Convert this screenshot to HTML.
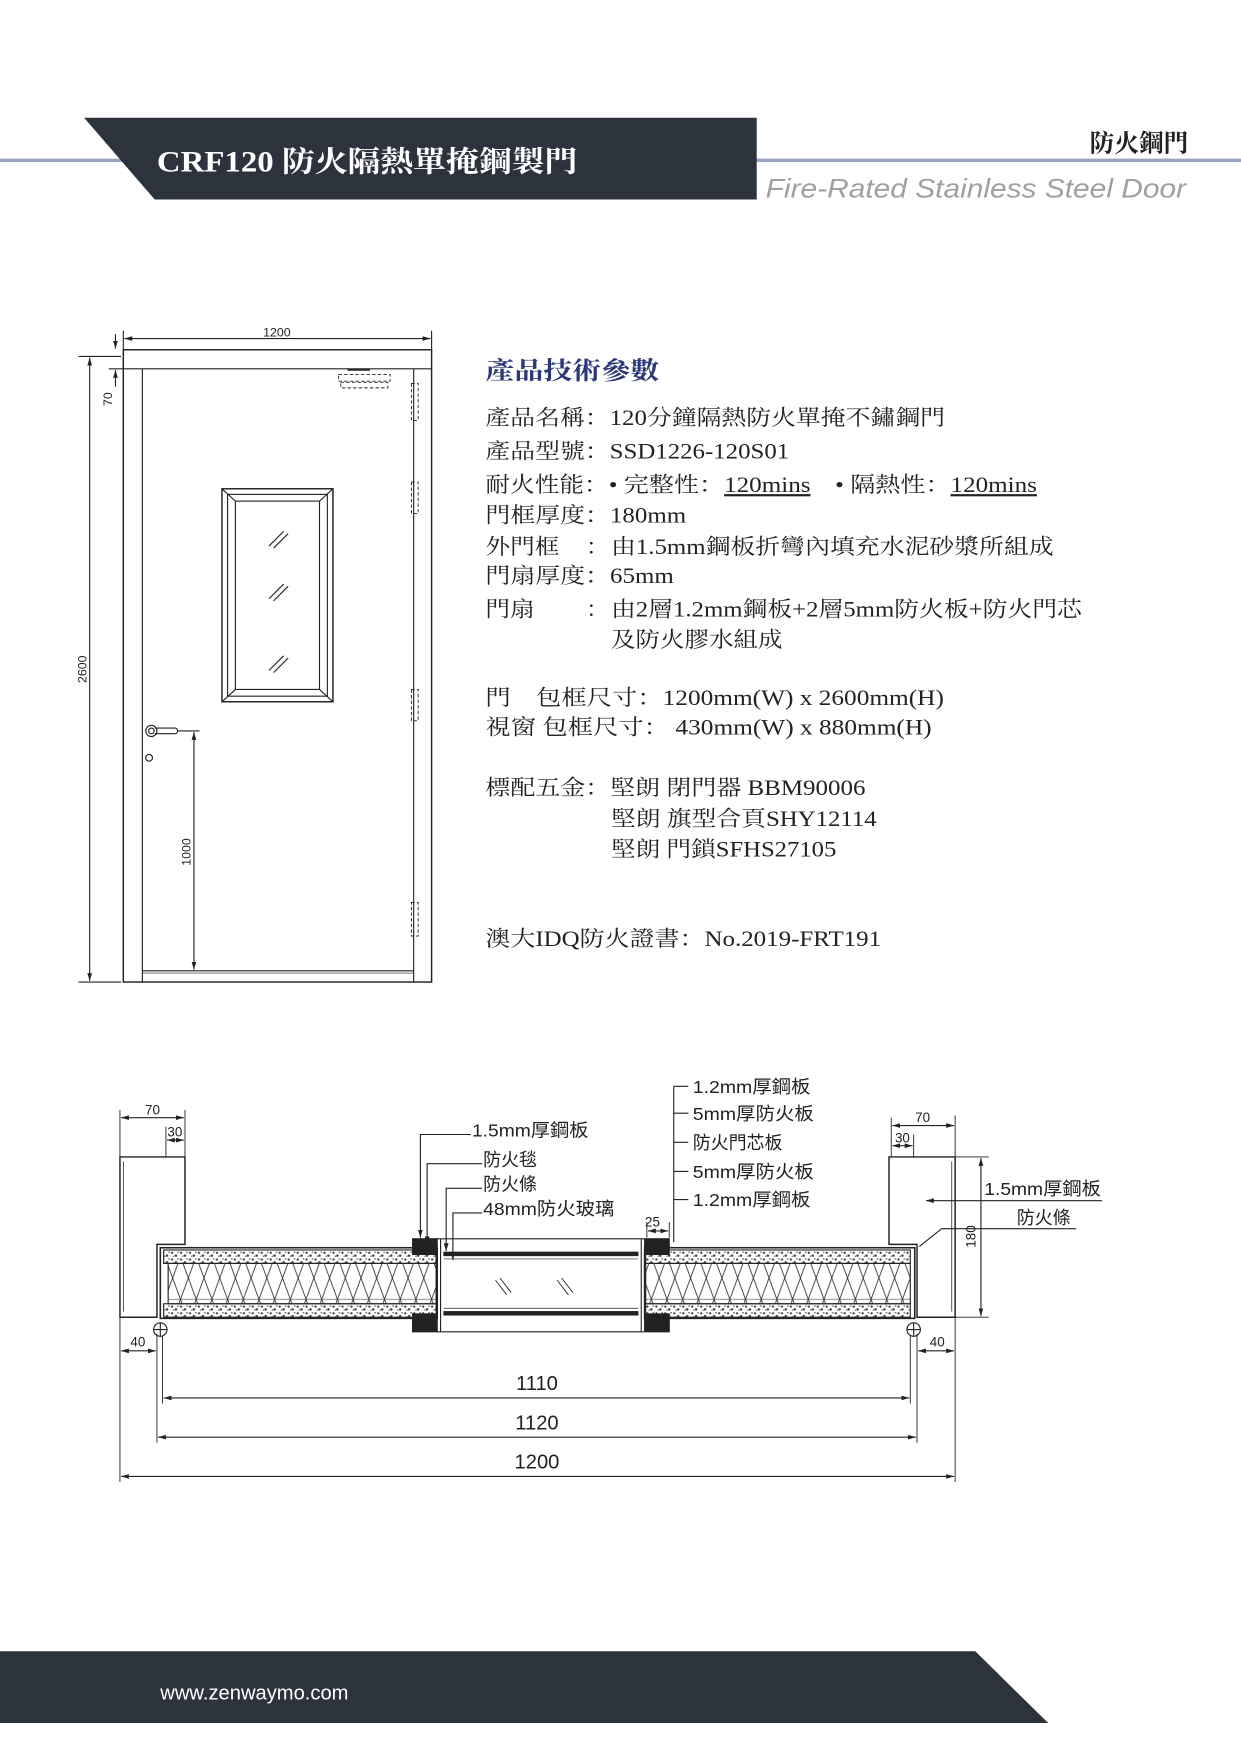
<!DOCTYPE html>
<html><head><meta charset="utf-8"><style>
html,body{margin:0;padding:0;background:#fff;}
svg{display:block;}
.s{font-family:"Liberation Serif","Noto Serif CJK SC",serif;}
.a{font-family:"Liberation Sans","Noto Sans CJK SC",sans-serif;}
</style></head><body>
<svg width="1241" height="1755" viewBox="0 0 1107 1565.5" xmlns="http://www.w3.org/2000/svg">
<defs>
<marker id="ar" viewBox="0 0 10 10" refX="10" refY="5" markerWidth="7" markerHeight="7" orient="auto-start-reverse"><path d="M0,2 L10,5 L0,8 z" fill="#222"/></marker>
<pattern id="zz" width="14" height="38" patternUnits="userSpaceOnUse"><path d="M0,0 L14,38 M14,0 L0,38" stroke="#333" stroke-width="0.8" fill="none"/><path d="M0,19 L14,19" stroke="#333" stroke-width="0.5"/></pattern>
<pattern id="sp" width="8" height="6" patternUnits="userSpaceOnUse"><rect width="8" height="6" fill="#fff"/><circle cx="1.5" cy="1.5" r="1" fill="#333"/><circle cx="5" cy="4" r="1.1" fill="#444"/><rect x="6" y="0.5" width="1.5" height="1" fill="#555"/><rect x="2.5" y="4" width="1.2" height="1.2" fill="#666"/></pattern>
</defs>

<!-- header -->
<line x1="0" y1="143" x2="1107" y2="143" stroke="#9aa3c2" stroke-width="3"/>
<polygon points="75,105 675,105 675,178 138,178" fill="#2d333d"/>
<text x="140" y="153" class="s" font-size="26" font-weight="bold" fill="#fff" textLength="375" lengthAdjust="spacingAndGlyphs">CRF120 防火隔熱單掩鋼製門</text>
<text x="1060" y="135" class="s" font-size="22" font-weight="bold" fill="#222" text-anchor="end">防火鋼門</text>
<text x="683" y="176" class="a" font-size="24" font-style="italic" fill="#a0a0a0" textLength="375" lengthAdjust="spacingAndGlyphs">Fire-Rated Stainless Steel Door</text>

<!-- door elevation -->
<g stroke="#222" fill="none" stroke-width="1">
<line x1="110" y1="295" x2="110" y2="312"/><line x1="385" y1="295" x2="385" y2="312"/>
<line x1="111" y1="302" x2="384" y2="302" marker-start="url(#ar)" marker-end="url(#ar)"/>
<rect x="110" y="312" width="275" height="564" stroke-width="1.3"/>
<line x1="110" y1="329" x2="385" y2="329"/>
<line x1="127" y1="329" x2="127" y2="876"/>
<line x1="369" y1="329" x2="369" y2="876"/>
<line x1="127" y1="866" x2="369" y2="866"/>
<line x1="127" y1="868" x2="369" y2="868" stroke-width="0.6"/>
<line x1="70" y1="318" x2="108" y2="318"/><line x1="70" y1="876" x2="108" y2="876"/>
<line x1="80" y1="319" x2="80" y2="875" marker-start="url(#ar)" marker-end="url(#ar)"/>
<line x1="97" y1="329" x2="110" y2="329"/>
<line x1="103" y1="298" x2="103" y2="311" marker-end="url(#ar)"/>
<line x1="103" y1="345" x2="103" y2="330" marker-end="url(#ar)"/>
<rect x="198" y="436" width="99" height="190" stroke-width="1.3"/>
<rect x="203" y="441" width="89" height="180"/>
<rect x="210" y="447" width="75" height="168"/>
<line x1="198" y1="436" x2="210" y2="447"/><line x1="297" y1="436" x2="285" y2="447"/>
<line x1="198" y1="626" x2="210" y2="615"/><line x1="297" y1="626" x2="285" y2="615"/>
<path d="M240,487 L253,474 M244,489 L257,476 M240,534 L253,521 M244,536 L257,523 M240,598 L253,585 M244,600 L257,587"/>
<circle cx="135" cy="652" r="5"/><circle cx="135" cy="652" r="2.5"/>
<path d="M138,649.5 L156,649.5 A2.5,2.5 0 0 1 156,654.5 L138,654.5"/>
<circle cx="133" cy="676" r="3"/>
<line x1="158" y1="652" x2="178" y2="652"/>
<line x1="173" y1="653" x2="173" y2="865" marker-start="url(#ar)" marker-end="url(#ar)"/>
<g stroke-dasharray="3,2" stroke-width="0.8">
<rect x="367" y="342" width="6" height="33"/><rect x="367" y="430" width="6" height="28"/>
<rect x="367" y="615" width="6" height="28"/><rect x="367" y="805" width="6" height="30"/>
<rect x="302" y="334" width="46" height="6"/><rect x="304" y="341" width="42" height="5"/>
</g>
<line x1="310" y1="330" x2="330" y2="330" stroke-width="1.5"/>
</g>
<g class="a" font-size="11" fill="#222">
<text x="247" y="300" text-anchor="middle">1200</text>
<text transform="translate(77,597) rotate(-90)" text-anchor="middle">2600</text>
<text transform="translate(100,356) rotate(-90)" text-anchor="middle">70</text>
<text transform="translate(170,760) rotate(-90)" text-anchor="middle">1000</text>
</g>

<!-- spec text -->
<text x="433" y="338" class="s" font-size="22" font-weight="bold" fill="#2b3778" textLength="155" lengthAdjust="spacingAndGlyphs">產品技術參數</text>
<g class="s" font-size="19.5" fill="#222" lengthAdjust="spacingAndGlyphs">
<text x="433" y="379" textLength="410" lengthAdjust="spacingAndGlyphs">產品名稱：120分鐘隔熱防火單掩不鏽鋼門</text>
<text x="433" y="409" textLength="271" lengthAdjust="spacingAndGlyphs">產品型號：SSD1226-120S01</text>
<text x="433" y="439" textLength="110" lengthAdjust="spacingAndGlyphs">耐火性能：</text>
<text x="543" y="439" textLength="180" lengthAdjust="spacingAndGlyphs">• 完整性：<tspan text-decoration="underline">120mins</tspan></text>
<text x="745" y="439" textLength="180" lengthAdjust="spacingAndGlyphs">• 隔熱性：<tspan text-decoration="underline">120mins</tspan></text>
<text x="433" y="466" textLength="179" lengthAdjust="spacingAndGlyphs">門框厚度：180mm</text>
<text x="433" y="494" textLength="66" lengthAdjust="spacingAndGlyphs">外門框</text>
<text x="523" y="494">：</text>
<text x="545" y="494" textLength="395" lengthAdjust="spacingAndGlyphs">由1.5mm鋼板折彎內填充水泥砂漿所組成</text>
<text x="433" y="520" textLength="168" lengthAdjust="spacingAndGlyphs">門扇厚度：65mm</text>
<text x="433" y="550" textLength="44" lengthAdjust="spacingAndGlyphs">門扇</text>
<text x="523" y="550">：</text>
<text x="545" y="550" textLength="420" lengthAdjust="spacingAndGlyphs">由2層1.2mm鋼板+2層5mm防火板+防火門芯</text>
<text x="545" y="577" textLength="153" lengthAdjust="spacingAndGlyphs">及防火膠水組成</text>
<text x="433" y="629" textLength="409" lengthAdjust="spacingAndGlyphs">門　包框尺寸：1200mm(W) x 2600mm(H)</text>
<text x="433" y="655" textLength="398" lengthAdjust="spacingAndGlyphs">視窗 包框尺寸：  430mm(W) x 880mm(H)</text>
<text x="433" y="709" textLength="339" lengthAdjust="spacingAndGlyphs">標配五金：堅朗 閉門器 BBM90006</text>
<text x="545" y="737" textLength="237" lengthAdjust="spacingAndGlyphs">堅朗 旗型合頁SHY12114</text>
<text x="545" y="764" textLength="201" lengthAdjust="spacingAndGlyphs">堅朗 門鎖SFHS27105</text>
<text x="433" y="844" textLength="353" lengthAdjust="spacingAndGlyphs">澳大IDQ防火證書：No.2019-FRT191</text>
</g>

<!-- section -->
<g stroke="#222" fill="none" stroke-width="1">
<path d="M107,1032 L165,1032 L165,1110 L140,1110 L140,1175 L107,1175 Z" stroke-width="1.3"/>
<line x1="110" y1="1036" x2="110" y2="1170" stroke-width="0.7"/>
<path d="M852,1032 L793,1032 L793,1110 L818,1110 L818,1175 L852,1175 Z" stroke-width="1.3"/>
<line x1="849" y1="1036" x2="849" y2="1170" stroke-width="0.7"/>
<rect x="146" y="1115" width="243" height="12" fill="url(#sp)"/>
<rect x="146" y="1163" width="243" height="12" fill="url(#sp)"/>
<rect x="150" y="1127" width="239" height="36" fill="url(#zz)"/>
<rect x="143" y="1113" width="247" height="63" stroke-width="1.4"/>
<rect x="576" y="1115" width="236" height="12" fill="url(#sp)"/>
<rect x="576" y="1163" width="236" height="12" fill="url(#sp)"/>
<rect x="576" y="1127" width="236" height="36" fill="url(#zz)"/>
<rect x="575" y="1113" width="241" height="63" stroke-width="1.4"/>
<line x1="390" y1="1105" x2="575" y2="1105"/><line x1="390" y1="1188" x2="575" y2="1188"/>
<line x1="393" y1="1105" x2="393" y2="1188"/><line x1="572" y1="1105" x2="572" y2="1188"/>
<rect x="396" y="1117" width="173" height="3" fill="#222"/>
<rect x="396" y="1170" width="173" height="3" fill="#222"/>
<line x1="396" y1="1123" x2="569" y2="1123" stroke-width="0.6"/>
<line x1="396" y1="1167" x2="569" y2="1167" stroke-width="0.6"/>
<path d="M442,1142 L452,1155 M446,1140 L456,1153 M497,1142 L507,1155 M501,1140 L511,1153" stroke-width="0.8"/>
<rect x="368" y="1105" width="22" height="14" fill="#222"/><rect x="368" y="1172" width="22" height="16" fill="#222"/>
<rect x="575" y="1105" width="22" height="14" fill="#222"/><rect x="575" y="1172" width="22" height="16" fill="#222"/>
<circle cx="143" cy="1186" r="6"/><line x1="137" y1="1186" x2="149" y2="1186"/><line x1="143" y1="1180" x2="143" y2="1192"/>
<circle cx="815" cy="1186" r="6"/><line x1="809" y1="1186" x2="821" y2="1186"/><line x1="815" y1="1180" x2="815" y2="1192"/>
<line x1="107" y1="990" x2="107" y2="1322" stroke-width="0.8"/>
<line x1="852" y1="995" x2="852" y2="1322" stroke-width="0.8"/>
<line x1="140" y1="1190" x2="140" y2="1287" stroke-width="0.8"/>
<line x1="818" y1="1190" x2="818" y2="1287" stroke-width="0.8"/>
<line x1="145" y1="1192" x2="145" y2="1252" stroke-width="0.8"/>
<line x1="812" y1="1192" x2="812" y2="1252" stroke-width="0.8"/>
<line x1="146" y1="1247" x2="811" y2="1247" marker-start="url(#ar)" marker-end="url(#ar)"/>
<line x1="141" y1="1282" x2="817" y2="1282" marker-start="url(#ar)" marker-end="url(#ar)"/>
<line x1="108" y1="1317" x2="851" y2="1317" marker-start="url(#ar)" marker-end="url(#ar)"/>
<line x1="108" y1="1205" x2="139" y2="1205" marker-start="url(#ar)" marker-end="url(#ar)"/>
<line x1="819" y1="1205" x2="851" y2="1205" marker-start="url(#ar)" marker-end="url(#ar)"/>
<line x1="165" y1="990" x2="165" y2="1032" stroke-width="0.8"/>
<line x1="108" y1="997" x2="164" y2="997" marker-start="url(#ar)" marker-end="url(#ar)"/>
<line x1="148" y1="1005" x2="148" y2="1032" stroke-width="0.8"/>
<line x1="149" y1="1017" x2="164" y2="1017" marker-start="url(#ar)" marker-end="url(#ar)"/>
<line x1="795" y1="997" x2="795" y2="1032" stroke-width="0.8"/>
<line x1="796" y1="1004" x2="851" y2="1004" marker-start="url(#ar)" marker-end="url(#ar)"/>
<line x1="815" y1="1012" x2="815" y2="1032" stroke-width="0.8"/>
<line x1="796" y1="1022" x2="814" y2="1022" marker-start="url(#ar)" marker-end="url(#ar)"/>
<line x1="852" y1="1032" x2="882" y2="1032" stroke-width="0.8"/>
<line x1="852" y1="1175" x2="882" y2="1175" stroke-width="0.8"/>
<line x1="875" y1="1033" x2="875" y2="1174" marker-start="url(#ar)" marker-end="url(#ar)"/>
<line x1="577" y1="1090" x2="577" y2="1104" stroke-width="0.8"/>
<line x1="597" y1="1090" x2="597" y2="1104" stroke-width="0.8"/>
<line x1="578" y1="1098" x2="596" y2="1098" marker-start="url(#ar)" marker-end="url(#ar)"/>
<polyline points="420,1012 375,1012 375,1104" marker-end="url(#ar)"/>
<polyline points="430,1038 381,1038 381,1110" marker-end="url(#ar)"/>
<polyline points="430,1060 398,1060 398,1116" marker-end="url(#ar)"/>
<polyline points="430,1082 404,1082 404,1124" marker-end="url(#ar)"/>
<line x1="601" y1="969" x2="601" y2="1108"/>
<path d="M601,969 H614 M601,993 H614 M601,1019 H614 M601,1045 H614 M601,1070 H614"/>
<line x1="983" y1="1071" x2="826" y2="1071" marker-end="url(#ar)"/>
<polyline points="960,1096 840,1096 820,1112"/>
</g>
<g class="a" font-size="18" fill="#222">
<text x="479" y="1240" text-anchor="middle">1110</text>
<text x="479" y="1275" text-anchor="middle">1120</text>
<text x="479" y="1310" text-anchor="middle">1200</text>
<g font-size="12">
<text x="123" y="1201" text-anchor="middle">40</text>
<text x="836" y="1201" text-anchor="middle">40</text>
<text x="136" y="994" text-anchor="middle">70</text>
<text x="156" y="1014" text-anchor="middle">30</text>
<text x="823" y="1001" text-anchor="middle">70</text>
<text x="805" y="1019" text-anchor="middle">30</text>
<text x="582" y="1094" text-anchor="middle">25</text>
<text transform="translate(870,1103) rotate(-90)" text-anchor="middle">180</text>
</g>
<g font-size="16">
<text x="421" y="1014" textLength="104" lengthAdjust="spacingAndGlyphs">1.5mm厚鋼板</text>
<text x="431" y="1040">防火毯</text>
<text x="431" y="1062">防火條</text>
<text x="431" y="1084" textLength="117" lengthAdjust="spacingAndGlyphs">48mm防火玻璃</text>
<text x="618" y="975" textLength="105" lengthAdjust="spacingAndGlyphs">1.2mm厚鋼板</text>
<text x="618" y="999" textLength="108" lengthAdjust="spacingAndGlyphs">5mm厚防火板</text>
<text x="618" y="1025">防火門芯板</text>
<text x="618" y="1051" textLength="108" lengthAdjust="spacingAndGlyphs">5mm厚防火板</text>
<text x="618" y="1076" textLength="105" lengthAdjust="spacingAndGlyphs">1.2mm厚鋼板</text>
<text x="878" y="1066" textLength="104" lengthAdjust="spacingAndGlyphs">1.5mm厚鋼板</text>
<text x="907" y="1092">防火條</text>
</g>
</g>

<!-- footer -->
<polygon points="0,1473 870,1473 935,1537 0,1537" fill="#2d333d"/>
<text x="143" y="1516" class="a" font-size="18" fill="#fff">www.zenwaymo.com</text>
</svg>
</body></html>
